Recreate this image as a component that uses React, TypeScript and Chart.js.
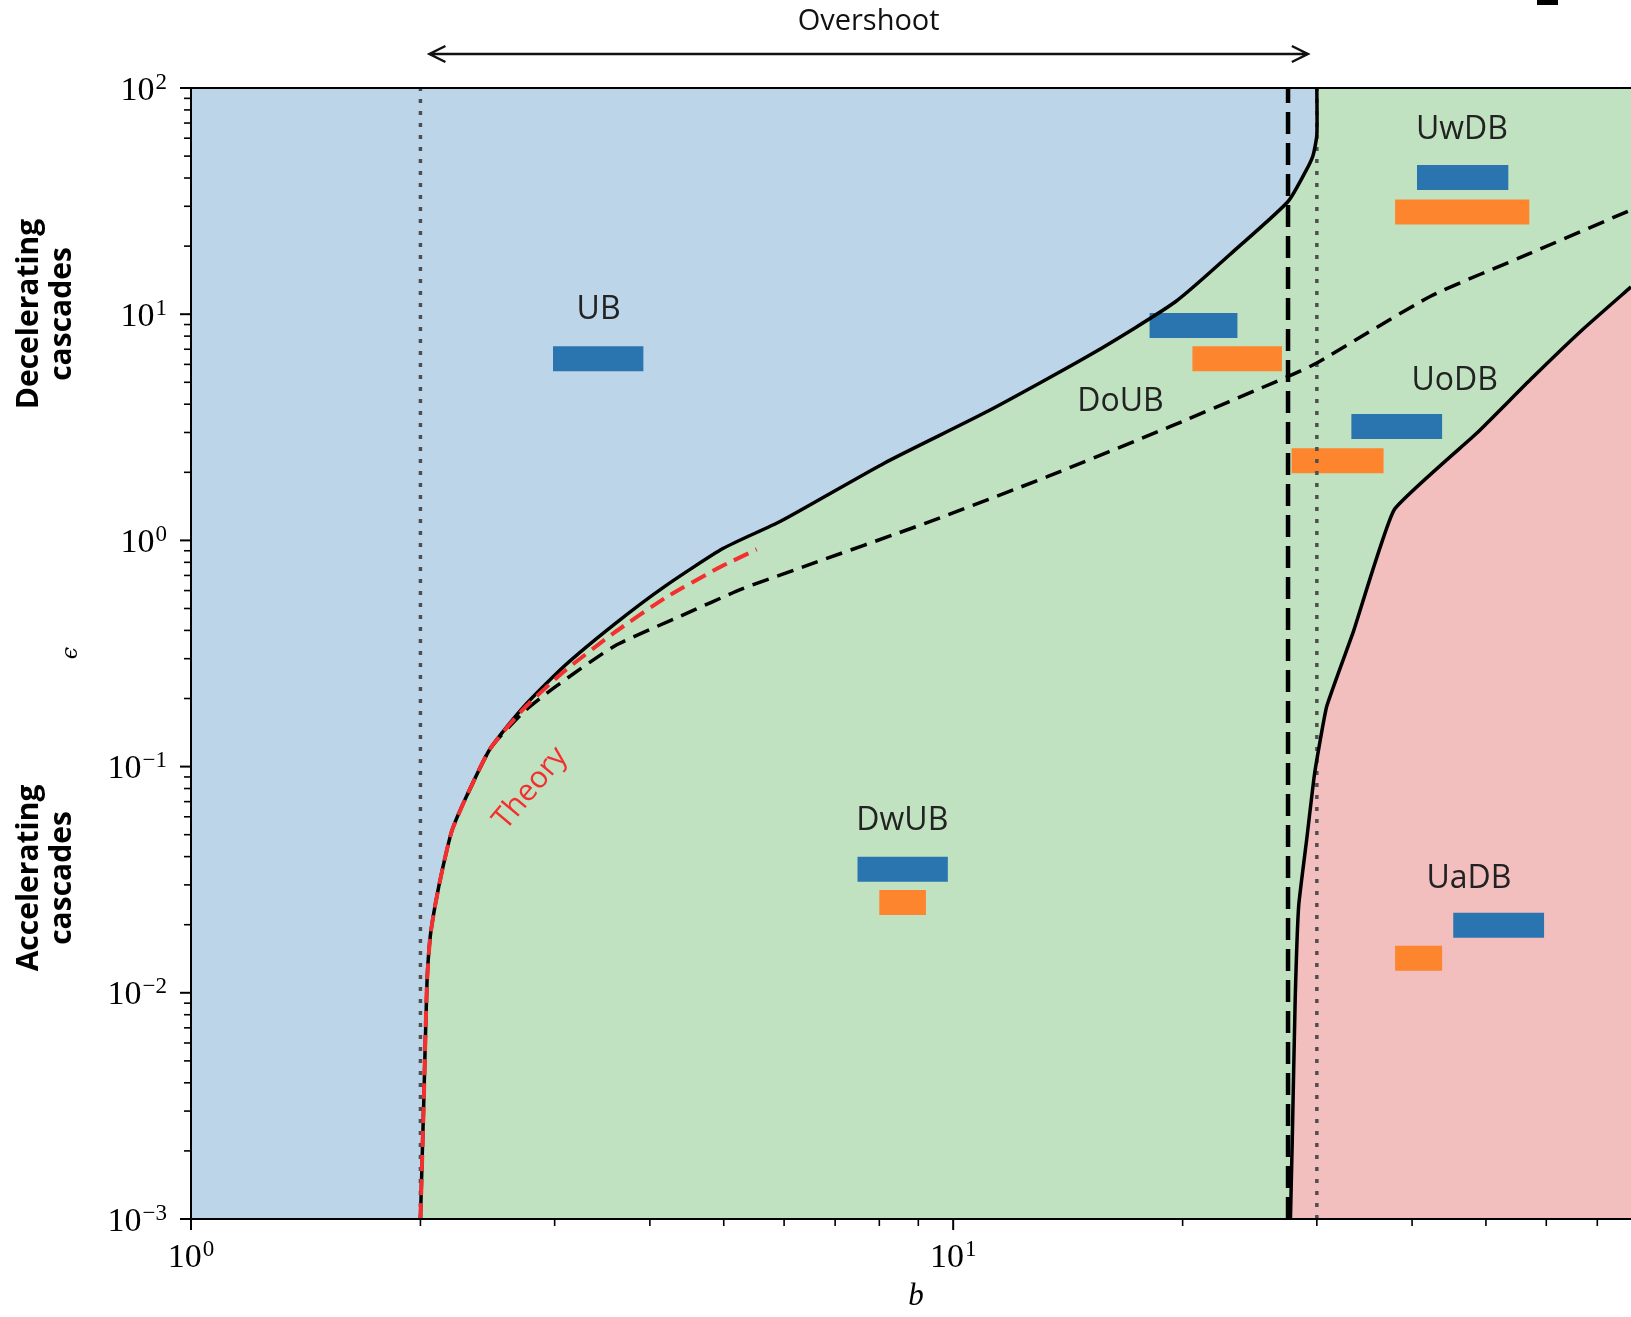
import React, { useEffect, useRef } from "react";
import { Chart, registerables } from "chart.js";

Chart.register(...registerables);

// ---------- axis ranges ----------
const X_MIN = 1;
const X_MAX = 77.5;
const Y_MIN = 1e-3;
const Y_MAX = 100;

// ---------- tick values ----------
const xMajorTicks = [1, 10];
const yMajorTicks = [1e-3, 1e-2, 1e-1, 1, 10, 100];

// ---------- solid boundary between UB and DB regimes ----------
const upperBoundaryB = [2.0, 2.021, 2.04, 2.06, 2.092, 2.139, 2.2, 2.306, 2.471, 2.733, 3.089, 3.592, 4.176, 4.994, 5.936, 8.13, 11.13, 15.23, 19.59, 23.64, 27.5, 29.0, 29.65, 30.0, 30.0];
const upperBoundaryEps = [0.001, 0.00346, 0.0111, 0.0177, 0.0246, 0.0356, 0.0522, 0.0756, 0.1205, 0.1842, 0.2785, 0.4256, 0.6233, 0.9226, 1.215, 2.2, 3.74, 6.7, 11.38, 19.75, 31.5, 42.8, 50.2, 62.1, 100];

// ---------- solid boundary of the UaDB regime ----------
const lowerBoundaryB = [27.7, 27.85, 28.1, 28.4, 29.1, 29.8, 30.9, 33.5, 37.9, 48.7, 57.2, 66.7, 77.5];
const lowerBoundaryEps = [0.001, 0.00219, 0.00936, 0.0243, 0.0479, 0.0934, 0.184, 0.395, 1.366, 2.99, 5.14, 8.45, 13.2];

// ---------- dashed curve ----------
const dashedCurveB = [2.306, 2.471, 2.733, 2.993, 3.592, 4.391, 5.285, 6.342, 9.188, 13.31, 19.28, 27.5, 30.0, 42.3, 57.2, 77.5];
const dashedCurveEps = [0.0756, 0.1205, 0.1747, 0.2229, 0.3405, 0.463, 0.6103, 0.762, 1.19, 1.917, 3.19, 5.305, 6.087, 12.0, 18.6, 28.9];

// ---------- theory curve ----------
const theoryB = [2.0, 2.021, 2.04, 2.06, 2.092, 2.139, 2.2, 2.306, 2.471, 2.733, 3.089, 3.592, 4.203, 4.917, 5.523];
const theoryEps = [0.001, 0.00346, 0.0111, 0.0177, 0.0246, 0.0356, 0.0522, 0.0756, 0.1205, 0.1803, 0.2641, 0.391, 0.5605, 0.7542, 0.9128];

// ---------- vertical reference lines ----------
const dottedLinesB = [2, 30];
const dashedLineB = 27.5;

// ---------- bars (blue / orange) ----------
const blueBarStart = [2.985, 18.1, 40.6, 33.3, 7.49, 45.3];
const blueBarEnd = [3.922, 23.6, 53.5, 43.8, 9.84, 59.6];
const blueBarEps = [6.35, 8.92, 40.2, 3.19, 0.0352, 0.0199];
const orangeBarStart = [20.6, 38.0, 27.8, 8.0, 38.0];
const orangeBarEnd = [27.0, 57.0, 36.7, 9.21, 43.8];
const orangeBarEps = [6.35, 28.3, 2.25, 0.0251, 0.0142];

// ---------- region labels ----------
const regionLabels = ["UB", "DoUB", "UwDB", "UoDB", "DwUB", "UaDB"];
const regionLabelB = [3.426, 16.58, 46.5, 45.5, 8.576, 47.5];
const regionLabelEps = [10.45, 4.113, 65.4, 5.085, 0.0574, 0.032];

const theoryLabel = "Theory";
const theoryLabelB = 2.789;
const theoryLabelEps = 0.0801;

const overshootLabel = "Overshoot";
const overshootFrom = 2;
const overshootTo = 30;

const CURVE_TENSION = 0.2;
const LOWER_TENSION = 0.12;

const COLORS = {
  blueRegion: "#bdd5e8",
  greenRegion: "#c0e2c0",
  redRegion: "#f2bebe",
  blueBar: "#2a74b0",
  orangeBar: "#fd852e",
  theory: "#f32f2f",
  dotted: "#4f4f4f",
};

const pts = (xs: number[], ys: number[]) => xs.map((x, i) => ({ x, y: ys[i] }));

function lineDs(data: any[], color: string, width: number, order: number, dash: number[] = [], tension = 0) {
  return {
    data,
    showLine: true,
    borderColor: color,
    borderWidth: width,
    borderDash: dash,
    borderCapStyle: "butt",
    borderJoinStyle: "round",
    pointRadius: 0,
    fill: false,
    tension,
    order,
  };
}

function polyDs(data: any[], color: string, order: number, tension = 0) {
  return {
    data,
    showLine: true,
    borderWidth: 0,
    borderColor: "rgba(0,0,0,0)",
    backgroundColor: color,
    pointRadius: 0,
    fill: "shape",
    tension,
    order,
  };
}

function drawPow10(ctx: CanvasRenderingContext2D, exp: number, xPos: number, yCenter: number, align: "right" | "center") {
  const base = "10";
  const sup = exp < 0 ? "\u2212" + Math.abs(exp) : String(exp);
  const baseFont = '34px "Liberation Serif"';
  const supFont = '23px "Liberation Serif"';
  ctx.font = baseFont;
  const wb = ctx.measureText(base).width;
  ctx.font = supFont;
  const ws = ctx.measureText(sup).width;
  const total = wb + 1 + ws;
  const left = align === "right" ? xPos - total : xPos - total / 2;
  const baseline = yCenter + 11.5;
  ctx.textAlign = "left";
  ctx.textBaseline = "alphabetic";
  ctx.fillStyle = "#000";
  ctx.font = baseFont;
  ctx.fillText(base, left, baseline);
  ctx.font = supFont;
  ctx.fillText(sup, left + wb + 1, baseline - 11);
}

const decorPlugin = {
  id: "decor",
  afterDatasetsDraw(chart: any) {
    const { ctx, scales } = chart;
    const xs = scales.x;
    const ys = scales.y;
    ctx.save();
    ctx.fillStyle = "#222";
    ctx.font = '32px "Open Sans"';
    ctx.textAlign = "center";
    ctx.textBaseline = "middle";
    regionLabels.forEach((t, i) => {
      ctx.fillText(t, xs.getPixelForValue(regionLabelB[i]), ys.getPixelForValue(regionLabelEps[i]));
    });
    // Theory label
    ctx.save();
    ctx.translate(xs.getPixelForValue(theoryLabelB), ys.getPixelForValue(theoryLabelEps));
    ctx.rotate((-50 * Math.PI) / 180);
    ctx.fillStyle = COLORS.theory;
    ctx.font = '30px "Open Sans"';
    ctx.fillText(theoryLabel, 0, 0);
    ctx.restore();
    ctx.restore();
  },
  afterDraw(chart: any) {
    const { ctx, chartArea: a, scales } = chart;
    const xs = scales.x;
    const ys = scales.y;
    ctx.save();
    // spines
    ctx.strokeStyle = "#000";
    ctx.lineWidth = 2;
    ctx.beginPath();
    ctx.moveTo(a.left, a.top);
    ctx.lineTo(a.right + 2, a.top);
    ctx.moveTo(a.left, a.top - 1);
    ctx.lineTo(a.left, a.bottom + 1);
    ctx.moveTo(a.left - 1, a.bottom);
    ctx.lineTo(a.right + 2, a.bottom);
    ctx.stroke();

    // x ticks
    for (let d = 0; d <= 1; d++) {
      for (let m = 1; m <= 9; m++) {
        const v = m * Math.pow(10, d);
        if (v < X_MIN || v > X_MAX) continue;
        const px = xs.getPixelForValue(v);
        const major = m === 1;
        ctx.lineWidth = major ? 2 : 1.6;
        ctx.beginPath();
        ctx.moveTo(px, a.bottom);
        ctx.lineTo(px, a.bottom + (major ? 11 : 7));
        ctx.stroke();
      }
    }
    // y ticks
    for (let d = -3; d <= 2; d++) {
      for (let m = 1; m <= 9; m++) {
        const v = m * Math.pow(10, d);
        if (v < Y_MIN * 0.999 || v > Y_MAX * 1.001) continue;
        const py = ys.getPixelForValue(v);
        const major = m === 1;
        ctx.lineWidth = major ? 2 : 1.6;
        ctx.beginPath();
        ctx.moveTo(a.left, py);
        ctx.lineTo(a.left - (major ? 11 : 7), py);
        ctx.stroke();
      }
    }
    // tick labels
    xMajorTicks.forEach((v) => {
      drawPow10(ctx, Math.round(Math.log10(v)), xs.getPixelForValue(v), 1255, "center");
    });
    yMajorTicks.forEach((v) => {
      drawPow10(ctx, Math.round(Math.log10(v)), a.left - 24, ys.getPixelForValue(v), "right");
    });

    // axis titles
    ctx.fillStyle = "#000";
    ctx.textAlign = "center";
    ctx.textBaseline = "middle";
    ctx.font = 'italic 31px "Liberation Serif"';
    ctx.fillText("b", 916, 1297);
    ctx.save();
    ctx.translate(71, 653);
    ctx.rotate(-Math.PI / 2);
    ctx.font = 'italic 22px "DejaVu Serif"';
    ctx.fillText("\u03f5", 0, 0);
    ctx.restore();

    // regime annotations on the left
    const side = [
      { l1: "Decelerating", l2: "cascades", cy: 314 },
      { l1: "Accelerating", l2: "cascades", cy: 878 },
    ];
    ctx.font = 'bold 30px "Open Sans"';
    side.forEach((s) => {
      ctx.save();
      ctx.translate(29, s.cy);
      ctx.rotate(-Math.PI / 2);
      ctx.fillText(s.l1, 0, 0);
      ctx.restore();
      ctx.save();
      ctx.translate(62, s.cy);
      ctx.rotate(-Math.PI / 2);
      ctx.fillText(s.l2, 0, 0);
      ctx.restore();
    });

    // overshoot arrow
    const ax0 = xs.getPixelForValue(overshootFrom) + 9;
    const ax1 = xs.getPixelForValue(overshootTo) - 9;
    const ay = 54;
    ctx.strokeStyle = "#111";
    ctx.lineWidth = 2.5;
    ctx.beginPath();
    ctx.moveTo(ax0, ay);
    ctx.lineTo(ax1, ay);
    ctx.moveTo(ax0 + 16, ay - 8);
    ctx.lineTo(ax0, ay);
    ctx.lineTo(ax0 + 16, ay + 8);
    ctx.moveTo(ax1 - 16, ay - 8);
    ctx.lineTo(ax1, ay);
    ctx.lineTo(ax1 - 16, ay + 8);
    ctx.stroke();
    ctx.fillStyle = "#111";
    ctx.font = '29px "Open Sans"';
    ctx.fillText(overshootLabel, xs.getPixelForValue(Math.sqrt(overshootFrom * overshootTo)), 22);

    // small mark at the top-right corner of the crop
    ctx.fillStyle = "#000";
    ctx.fillRect(1537, 0, 21, 5);
    ctx.restore();
  },
};

export default function App() {
  const ref = useRef<HTMLCanvasElement>(null);
  useEffect(() => {
    document.body.style.margin = "0";
    const upper = pts(upperBoundaryB, upperBoundaryEps);
    const lower = pts(lowerBoundaryB, lowerBoundaryEps);
    const lastLower = lower[lower.length - 1];
    const datasets: any[] = [
      polyDs(
        [
          { x: X_MIN, y: Y_MIN },
          { x: X_MIN, y: Y_MAX },
          { x: X_MAX, y: Y_MAX },
          { x: X_MAX, y: Y_MIN },
        ],
        COLORS.blueRegion,
        100
      ),
      // green region: right of the UB boundary (corners doubled to keep them sharp)
      polyDs(
        [...upper, { x: 30, y: Y_MAX }, { x: X_MAX, y: Y_MAX }, { x: X_MAX, y: Y_MAX }, { x: X_MAX, y: Y_MIN }],
        COLORS.greenRegion,
        99,
        CURVE_TENSION
      ),
      polyDs([...lower, { x: lastLower.x, y: lastLower.y }, { x: X_MAX, y: Y_MIN }], COLORS.redRegion, 98, LOWER_TENSION),
    ];
    blueBarStart.forEach((s, i) => {
      datasets.push(lineDs([{ x: s, y: blueBarEps[i] }, { x: blueBarEnd[i], y: blueBarEps[i] }], COLORS.blueBar, 25, 60));
    });
    orangeBarStart.forEach((s, i) => {
      datasets.push(lineDs([{ x: s, y: orangeBarEps[i] }, { x: orangeBarEnd[i], y: orangeBarEps[i] }], COLORS.orangeBar, 25, 60));
    });
    dottedLinesB.forEach((b) => {
      datasets.push(lineDs([{ x: b, y: Y_MIN }, { x: b, y: Y_MAX }], COLORS.dotted, 3.5, 40, [4, 8]));
    });
    datasets.push(lineDs([{ x: dashedLineB, y: Y_MIN }, { x: dashedLineB, y: Y_MAX }], "#000", 4.5, 39, [22, 9]));
    datasets.push(lineDs(pts(dashedCurveB, dashedCurveEps), "#000", 3.5, 38, [17, 9], CURVE_TENSION));
    datasets.push(lineDs(upper, "#000", 3.5, 37, [], CURVE_TENSION));
    datasets.push(lineDs(lower, "#000", 3.5, 36, [], LOWER_TENSION));
    datasets.push(lineDs(pts(theoryB, theoryEps), COLORS.theory, 4, 35, [16, 8], CURVE_TENSION));

    const chart = new Chart(ref.current as HTMLCanvasElement, {
      type: "scatter",
      data: { datasets },
      options: {
        animation: false,
        responsive: false,
        maintainAspectRatio: false,
        events: [],
        layout: { padding: { left: 191, top: 88, right: 0, bottom: 98 } },
        plugins: { legend: { display: false }, tooltip: { enabled: false } },
        scales: {
          x: { type: "logarithmic", min: X_MIN, max: X_MAX, display: false },
          y: { type: "logarithmic", min: Y_MIN, max: Y_MAX, display: false },
        },
      } as any,
      plugins: [decorPlugin],
    } as any);
    return () => chart.destroy();
  }, []);
  return (
    <div style={{ width: 1631, height: 1317 }}>
      <canvas ref={ref} width={1631} height={1317} style={{ display: "block", width: 1631, height: 1317 }} />
    </div>
  );
}
